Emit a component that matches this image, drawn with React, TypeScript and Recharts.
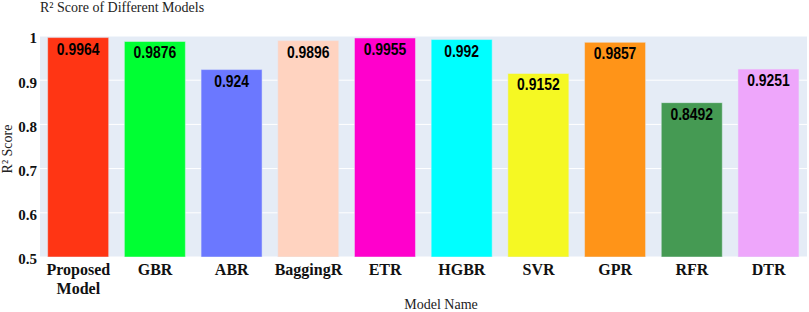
import { BarChart, Bar, XAxis, YAxis, CartesianGrid, Cell, LabelList } from "recharts";

const models = ["Proposed\nModel", "GBR", "ABR", "BaggingR", "ETR", "HGBR", "SVR", "GPR", "RFR", "DTR"];
const r2Scores = [0.9964, 0.9876, 0.924, 0.9896, 0.9955, 0.992, 0.9152, 0.9857, 0.8492, 0.9251];
const barColors = [
  "#FF3514", "#00FF33", "#6B78FF", "#FFD3C0", "#FF00CC",
  "#00FFFF", "#F5F823", "#FF9418", "#459A53", "#EEA6FB",
];
const yTicks = [0.5, 0.6, 0.7, 0.8, 0.9, 1];

const data = models.map((model, i) => ({ model, score: r2Scores[i] }));

const serif = "'Liberation Serif', 'Times New Roman', serif";

const ModelTick = (props: any) => {
  const { x, y, payload } = props;
  const lines = String(payload.value).split("\n");
  return (
    <text
      x={x}
      y={y}
      textAnchor="middle"
      fontFamily={serif}
      fontWeight="bold"
      fontSize={16}
      fill="#111"
    >
      {lines.map((line, i) => (
        <tspan key={i} x={x} dy={i === 0 ? 18 : 19}>
          {line}
        </tspan>
      ))}
    </text>
  );
};

// no narrow font installed, so squeeze Liberation Sans horizontally
const ValueLabel = (props: any) => {
  const { x, y, width, value } = props;
  return (
    <text
      transform={`translate(${x + width / 2}, ${y + 11}) scale(0.82, 1)`}
      x={0}
      y={0}
      textAnchor="middle"
      dominantBaseline="central"
      fontFamily="'Liberation Sans', Arial, sans-serif"
      fontWeight="bold"
      fontSize={17}
      fill="#000"
    >
      {value}
    </text>
  );
};

const App = () => {
  return (
    <div style={{ position: "absolute", left: 0, top: 0, width: 809, height: 312, background: "#fff" }}>
      <div
        style={{
          position: "absolute",
          left: 40,
          top: 0,
          fontFamily: serif,
          fontSize: 14,
          lineHeight: "16px",
          color: "#222",
          whiteSpace: "nowrap",
        }}
      >
        R² Score of Different Models
      </div>
      <div
        style={{
          position: "absolute",
          left: 8,
          top: 149,
          transform: "translate(-50%, -50%) rotate(-90deg)",
          fontFamily: serif,
          fontSize: 14,
          color: "#222",
          whiteSpace: "nowrap",
        }}
      >
        R² Score
      </div>
      <div
        style={{
          position: "absolute",
          left: 441,
          top: 297,
          transform: "translateX(-50%)",
          fontFamily: serif,
          fontSize: 14,
          color: "#222",
          whiteSpace: "nowrap",
        }}
      >
        Model Name
      </div>
      <BarChart
        width={809}
        height={312}
        data={data}
        margin={{ top: 36, right: 2, left: 0, bottom: 0 }}
        barCategoryGap="10%"
      >
        <CartesianGrid vertical={false} stroke="#FFFFFF" strokeWidth={1} fill="#E5ECF6" />
        <XAxis
          dataKey="model"
          height={55}
          axisLine={false}
          tickLine={false}
          tickSize={0}
          tickMargin={0}
          interval={0}
          tick={<ModelTick />}
        />
        <YAxis
          width={40}
          domain={[0.5, 1]}
          ticks={yTicks}
          allowDataOverflow
          axisLine={false}
          tickLine={false}
          tickSize={0}
          tickMargin={3}
          tickFormatter={(v) => String(v)}
          tick={{ fontFamily: serif, fontWeight: "bold", fontSize: 15, fill: "#111", dy: 2 }}
        />
        <Bar dataKey="score" isAnimationActive={false} stroke="#E5ECF6" strokeWidth={0.5}>
          {data.map((d, i) => (
            <Cell key={d.model} fill={barColors[i]} />
          ))}
          <LabelList dataKey="score" content={<ValueLabel />} />
        </Bar>
      </BarChart>
    </div>
  );
};

export default App;
